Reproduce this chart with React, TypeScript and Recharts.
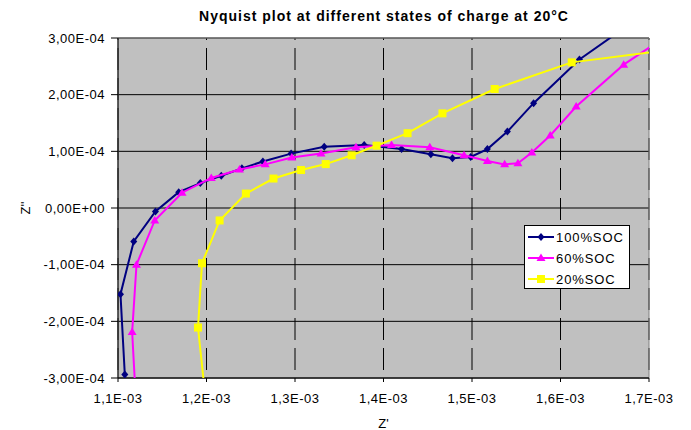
import * as React from 'react';
import {
    CartesianGrid,
    ReferenceArea,
    Scatter,
    ScatterChart,
    XAxis,
    YAxis,
} from 'recharts';

// Z' values (ohm) and Z'' values (ohm) per state of charge.
// End points outside the axis range only continue the line to the frame.
const soc100X = [
    1.1077e-3, 1.1028e-3, 1.1178e-3, 1.1423e-3, 1.1686e-3, 1.193e-3, 1.2167e-3, 1.24e-3,
    1.2637e-3, 1.2956e-3, 1.333e-3, 1.3782e-3, 1.4204e-3, 1.4535e-3, 1.4779e-3, 1.4985e-3,
    1.5174e-3, 1.54e-3, 1.5696e-3, 1.6214e-3, 1.685e-3,
];
const soc100Y = [
    -2.94e-4, -1.52e-4, -0.59e-4, -0.06e-4, 0.28e-4, 0.44e-4, 0.57e-4, 0.7e-4,
    0.82e-4, 0.96e-4, 1.08e-4, 1.11e-4, 1.04e-4, 0.95e-4, 0.88e-4, 0.9e-4,
    1.04e-4, 1.35e-4, 1.85e-4, 2.62e-4, 3.32e-4,
];

const soc60X = [
    1.1195e-3, 1.116e-3, 1.1209e-3, 1.1415e-3, 1.1724e-3, 1.2054e-3, 1.2373e-3, 1.2663e-3,
    1.2964e-3, 1.3294e-3, 1.3689e-3, 1.4091e-3, 1.4523e-3, 1.491e-3, 1.5174e-3, 1.5369e-3,
    1.5519e-3, 1.5676e-3, 1.5884e-3, 1.6177e-3, 1.6714e-3, 1.75e-3,
];
const soc60Y = [
    -3.2e-4, -2.19e-4, -1.0e-4, -0.22e-4, 0.27e-4, 0.53e-4, 0.68e-4, 0.77e-4,
    0.89e-4, 0.96e-4, 1.07e-4, 1.11e-4, 1.07e-4, 0.93e-4, 0.83e-4, 0.77e-4,
    0.79e-4, 0.98e-4, 1.28e-4, 1.79e-4, 2.53e-4, 3.35e-4,
];

const soc20X = [
    1.1985e-3, 1.1904e-3, 1.1949e-3, 1.2148e-3, 1.2445e-3, 1.2757e-3, 1.3069e-3, 1.3347e-3,
    1.364e-3, 1.3922e-3, 1.4272e-3, 1.4666e-3, 1.5256e-3, 1.6127e-3, 1.8e-3,
];
const soc20Y = [
    -3.3e-4, -2.11e-4, -0.975e-4, -0.22e-4, 0.255e-4, 0.52e-4, 0.67e-4, 0.775e-4,
    0.93e-4, 1.1e-4, 1.32e-4, 1.67e-4, 2.1e-4, 2.57e-4, 2.94e-4,
];

const xTicks = [1.1e-3, 1.2e-3, 1.3e-3, 1.4e-3, 1.5e-3, 1.6e-3, 1.7e-3];
const xTickLabels = ['1,1E-03', '1,2E-03', '1,3E-03', '1,4E-03', '1,5E-03', '1,6E-03', '1,7E-03'];
const yTicks = [-3e-4, -2e-4, -1e-4, 0, 1e-4, 2e-4, 3e-4];
const yTickLabels = ['-3,00E-04', '-2,00E-04', '-1,00E-04', '0,00E+00', '1,00E-04', '2,00E-04', '3,00E-04'];

const FONT = '"Liberation Sans", Arial, sans-serif';

const toPoints = (xs: number[], ys: number[]) => xs.map((x, i) => ({ x, y: ys[i] }));

const series = [
    { name: '100%SOC', color: '#000080', marker: 'diamond', data: toPoints(soc100X, soc100Y) },
    { name: '60%SOC', color: '#FF00FF', marker: 'triangle', data: toPoints(soc60X, soc60Y) },
    { name: '20%SOC', color: '#FFFF00', marker: 'square', data: toPoints(soc20X, soc20Y) },
];

function Marker({ kind, cx, cy, color }: { kind: string; cx: number; cy: number; color: string }) {
    if (kind === 'diamond') {
        return <path d={`M${cx},${cy - 4}L${cx + 3.5},${cy}L${cx},${cy + 4}L${cx - 3.5},${cy}Z`} fill={color} />;
    }
    if (kind === 'triangle') {
        return <path d={`M${cx},${cy - 4.5}L${cx + 4.5},${cy + 3}L${cx - 4.5},${cy + 3}Z`} fill={color} />;
    }
    return <rect x={cx - 4} y={cy - 4} width={8} height={8} fill={color} />;
}

function YLabel({ viewBox }: any) {
    const x = viewBox.x + 25;
    const y = viewBox.y + viewBox.height / 2;
    return (
        <text
            x={x}
            y={y}
            transform={`rotate(-90 ${x} ${y})`}
            textAnchor="middle"
            dominantBaseline="central"
            fontFamily={FONT}
            fontSize={13}
            fill="#000"
        >
            Z''
        </text>
    );
}

function LegendBox() {
    return (
        <div
            style={{
                position: 'absolute',
                left: 524,
                top: 225,
                width: 104,
                height: 62,
                background: '#fff',
                border: '1px solid #000',
                fontFamily: FONT,
                fontSize: 13,
                letterSpacing: 0.9,
            }}
        >
            {series.map((s, i) => (
                <div
                    key={s.name}
                    style={{ position: 'absolute', left: 2, top: 2 + i * 21, height: 18, display: 'flex', alignItems: 'center' }}
                >
                    <svg width={28} height={12}>
                        <line x1={1} y1={6} x2={27} y2={6} stroke={s.color} strokeWidth={2} />
                        <Marker kind={s.marker} cx={14} cy={6} color={s.color} />
                    </svg>
                    <span style={{ marginLeft: 1 }}>{s.name}</span>
                </div>
            ))}
        </div>
    );
}

export default function App() {
    return (
        <div style={{ position: 'absolute', left: 0, top: 0, width: 691, height: 430, background: '#fff' }}>
            <div
                style={{
                    position: 'absolute',
                    left: 0,
                    width: 768,
                    top: 8,
                    textAlign: 'center',
                    fontFamily: FONT,
                    fontWeight: 'bold',
                    fontSize: 14,
                    letterSpacing: 1,
                }}
            >
                Nyquist plot at different states of charge at 20°C
            </div>
            <ScatterChart width={691} height={430} margin={{ top: 38, right: 42, bottom: 0, left: 0 }}>
                <CartesianGrid
                    horizontal={false}
                    vertical
                    fill="#C0C0C0"
                    stroke="#000"
                    strokeDasharray="22 8"
                    strokeDashoffset={20}
                    verticalValues={xTicks}
                />
                <CartesianGrid horizontal vertical={false} stroke="#000" horizontalValues={yTicks} />
                <ReferenceArea
                    x1={1.1e-3}
                    x2={1.7e-3}
                    y1={-3e-4}
                    y2={3e-4}
                    fill="none"
                    fillOpacity={0}
                    stroke="#808080"
                    ifOverflow="visible"
                />
                <XAxis
                    type="number"
                    dataKey="x"
                    domain={[1.1e-3, 1.7e-3]}
                    ticks={xTicks}
                    allowDataOverflow
                    height={52}
                    stroke="#000"
                    tickSize={4}
                    tickMargin={12}
                    tick={{ fill: '#000', fontFamily: FONT, fontSize: 13, letterSpacing: 0.5 }}
                    tickFormatter={(v: number) => xTickLabels[xTicks.findIndex((t) => Math.abs(t - v) < 1e-9)]}
                    label={{ value: "Z'", position: 'insideBottom', offset: 2, fill: '#000', fontFamily: FONT, fontSize: 13 }}
                />
                <YAxis
                    type="number"
                    dataKey="y"
                    domain={[-3e-4, 3e-4]}
                    ticks={yTicks}
                    allowDataOverflow
                    width={118}
                    stroke="#000"
                    tickSize={7}
                    tickMargin={6}
                    tick={{ fill: '#000', fontFamily: FONT, fontSize: 13, letterSpacing: 0.5 }}
                    tickFormatter={(v: number) => yTickLabels[yTicks.findIndex((t) => Math.abs(t - v) < 1e-12)]}
                    label={<YLabel />}
                />
                {series.map((s) => (
                    <Scatter
                        key={s.name}
                        name={s.name}
                        data={s.data}
                        line={{ stroke: s.color, strokeWidth: 2 }}
                        lineType="joint"
                        lineJointType="linear"
                        fill={s.color}
                        isAnimationActive={false}
                        shape={(p: any) => <Marker kind={s.marker} cx={p.cx} cy={p.cy} color={s.color} />}
                    />
                ))}
            </ScatterChart>
            <LegendBox />
        </div>
    );
}
